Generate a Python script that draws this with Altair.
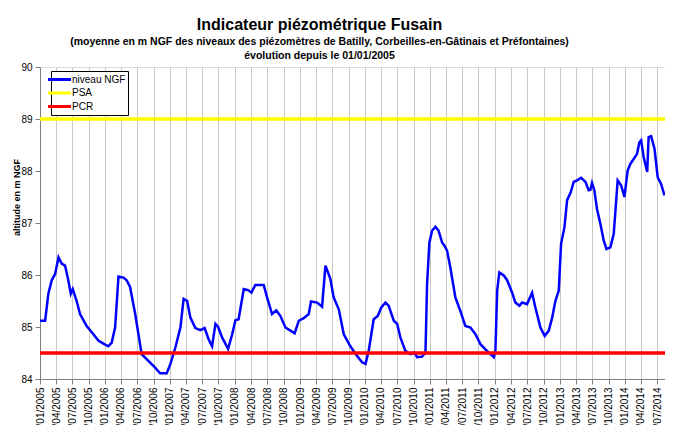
import altair as alt
import pandas as pd

# --- data -------------------------------------------------------------
# decimal years (2005.0 = 01/01/2005) and mean level in m NGF
years = [
    2005.00, 2005.08, 2005.131, 2005.182, 2005.234, 2005.285, 2005.335, 2005.388,
    2005.438, 2005.474, 2005.505, 2005.566, 2005.618, 2005.72, 2005.823, 2005.90,
    2005.977, 2006.054, 2006.105, 2006.157, 2006.208, 2006.285, 2006.335, 2006.388,
    2006.465, 2006.566, 2006.669, 2006.772, 2006.849, 2006.951,
    2007.008, 2007.085, 2007.162, 2007.212, 2007.265, 2007.315, 2007.392, 2007.469,
    2007.535, 2007.597, 2007.649, 2007.70, 2007.742, 2007.803, 2007.895, 2007.957,
    2008.008, 2008.058, 2008.135, 2008.203, 2008.254, 2008.315, 2008.443, 2008.495,
    2008.572, 2008.638, 2008.70, 2008.777, 2008.854, 2008.92,
    2008.982, 2009.058, 2009.135, 2009.172, 2009.265, 2009.342, 2009.392, 2009.469,
    2009.52, 2009.597, 2009.674, 2009.777, 2009.88, 2009.957, 2010.008, 2010.058,
    2010.135, 2010.197, 2010.249, 2010.315, 2010.366, 2010.443, 2010.495, 2010.546,
    2010.623, 2010.70, 2010.762, 2010.803,
    2010.88, 2010.931, 2010.957, 2010.992, 2011.034, 2011.085, 2011.135, 2011.188,
    2011.228, 2011.265, 2011.315, 2011.392, 2011.469, 2011.546, 2011.623, 2011.70,
    2011.777, 2011.854, 2011.931, 2011.982, 2012.008, 2012.034, 2012.069, 2012.135,
    2012.188, 2012.265, 2012.315, 2012.377, 2012.418, 2012.495, 2012.572, 2012.623,
    2012.70, 2012.766,
    2012.828, 2012.88, 2012.931, 2012.982, 2013.018, 2013.069, 2013.111, 2013.162,
    2013.212, 2013.265, 2013.326, 2013.392, 2013.443, 2013.469, 2013.495, 2013.531,
    2013.572, 2013.623, 2013.674, 2013.715, 2013.777, 2013.828, 2013.889, 2013.942,
    2013.992, 2014.043, 2014.085, 2014.135, 2014.188, 2014.223, 2014.249, 2014.289,
    2014.342, 2014.366, 2014.403, 2014.454, 2014.505, 2014.557, 2014.608,
]
levels = [
    85.12, 85.12, 85.64, 85.90, 86.02, 86.34, 86.22, 86.18,
    85.90, 85.64, 85.73, 85.50, 85.25, 85.02, 84.86, 84.74,
    84.68, 84.63, 84.70, 84.99, 85.97, 85.95, 85.90, 85.77,
    85.25, 84.48, 84.35, 84.22, 84.11, 84.11,
    84.29, 84.61, 84.99, 85.54, 85.50, 85.18, 84.98, 84.94,
    84.98, 84.76, 84.63, 85.06, 85.00, 84.80, 84.58, 84.86,
    85.13, 85.15, 85.73, 85.71, 85.66, 85.81, 85.81, 85.57,
    85.25, 85.32, 85.21, 84.99, 84.93, 84.88,
    85.12, 85.17, 85.25, 85.49, 85.47, 85.39, 86.18, 85.92,
    85.57, 85.34, 84.86, 84.63, 84.44, 84.32, 84.29, 84.54,
    85.15, 85.21, 85.37, 85.47, 85.41, 85.12, 85.06, 84.80,
    84.54, 84.48, 84.51, 84.42,
    84.43, 84.51, 85.82, 86.62, 86.85, 86.93, 86.85, 86.62,
    86.56, 86.46, 86.14, 85.57, 85.31, 85.02, 84.99, 84.86,
    84.67, 84.57, 84.48, 84.42, 84.54, 85.70, 86.05, 85.99,
    85.90, 85.66, 85.47, 85.41, 85.47, 85.44, 85.66, 85.37,
    84.99, 84.83,
    84.93, 85.18, 85.50, 85.70, 86.60, 86.92, 87.44, 87.58,
    87.79, 87.82, 87.87, 87.79, 87.63, 87.64, 87.77, 87.63,
    87.27, 86.98, 86.66, 86.50, 86.53, 86.79, 87.82, 87.72,
    87.50, 88.01, 88.14, 88.23, 88.33, 88.55, 88.59, 88.27,
    87.98, 88.65, 88.67, 88.43, 87.88, 87.75, 87.53,
]
threshold_names = ["PSA", "PCR"]
threshold_values = [89.0, 84.5]
series_names = ["niveau NGF", "PSA", "PCR"]
series_colors = ["#0000FF", "#FFFF00", "#FF0000"]
tick_years = list(range(2005, 2015))
tick_months = [1, 4, 7, 10]

# --- tables -------------------------------------------------------------
start = pd.Timestamp("2005-01-01")
dates = [(start + pd.to_timedelta((y - 2005) * 365.25, unit="D")).strftime("%Y-%m-%d")
         for y in years]
df = pd.DataFrame({"date": dates, "level": levels, "serie": "niveau NGF"})
thr = pd.DataFrame({"value": threshold_values, "serie": threshold_names})

x_start = alt.DateTime(year=2005, month=1, date=1, utc=True)
x_end = alt.DateTime(year=2014, month=8, date=14, utc=True)
tick_vals = [alt.DateTime(year=y, month=m, date=1, utc=True)
             for y in tick_years for m in tick_months
             if (y, m) <= (2014, 7)]

color = alt.Color(
    "serie:N",
    scale=alt.Scale(domain=series_names, range=series_colors),
    legend=alt.Legend(
        title=None, orient="none", legendX=11, legendY=4,
        strokeColor="#000000", fillColor="#ffffff", padding=2,
        symbolType="M-2.3,0L2.3,0", symbolSize=100, symbolStrokeWidth=3,
        labelFontSize=10, labelColor="#000000", labelOffset=6,
        rowPadding=0.5, labelFont="Liberation Sans",
    ),
)

x = alt.X(
    "date:T",
    scale=alt.Scale(type="utc", domain=[x_start, x_end]),
    axis=alt.Axis(
        title=None, values=tick_vals, format="%d/%m/%Y", labelAngle=-90,
        labelFontSize=10, labelColor="#000000", labelPadding=3,
        tickSize=5, tickColor="#808080", domainColor="#808080",
        grid=True, gridColor="#c8c8c8", gridWidth=1, labelOverlap=False,
        labelFlush=False,
    ),
)
y = alt.Y(
    "level:Q",
    scale=alt.Scale(domain=[84, 90], nice=False, zero=False),
    axis=alt.Axis(
        title="altitude en m NGF", values=[84, 85, 86, 87, 88, 89, 90],
        grid=False, labelFontSize=10, labelColor="#000000", labelPadding=3,
        tickSize=5, tickColor="#808080", domainColor="#808080",
        titleFontSize=9, titleFontWeight="bold", titleX=-24, titleY=130,
        titleAngle=270, titleAlign="center", titleBaseline="middle",
    ),
)

line = alt.Chart(df).mark_line(strokeWidth=2.5, clip=True).encode(x=x, y=y, color=color)
rules = alt.Chart(thr).mark_rule(strokeWidth=3.5).encode(
    y=alt.Y("value:Q", scale=alt.Scale(domain=[84, 90], nice=False, zero=False)),
    color=color,
)

chart = (
    alt.layer(line, rules)
    .properties(
        width=625, height=312,
        autosize=alt.AutoSizeParams(type="none"),
        padding={"left": 32, "top": 59, "right": 0, "bottom": 46},
        title=alt.TitleParams(
            text="Indicateur piézométrique Fusain",
            subtitle=["(moyenne en m NGF des niveaux des piézomètres de Batilly, Corbeilles-en-Gâtinais et Préfontaines)",
                      "évolution depuis le 01/01/2005"],
            fontSize=16, fontWeight="bold", subtitleFontSize=10.5, subtitleFontWeight="bold",
            subtitleColor="#000000", color="#000000", subtitleLineHeight=14,
            subtitlePadding=4, offset=1, anchor="middle", dx=-33,
            font="Liberation Sans", subtitleFont="Liberation Sans",
        ),
    )
    .configure_view(stroke=None)
    .configure(font="Liberation Sans")
)

chart.save("out.html", embed_options={"renderer": "svg", "actions": False})
